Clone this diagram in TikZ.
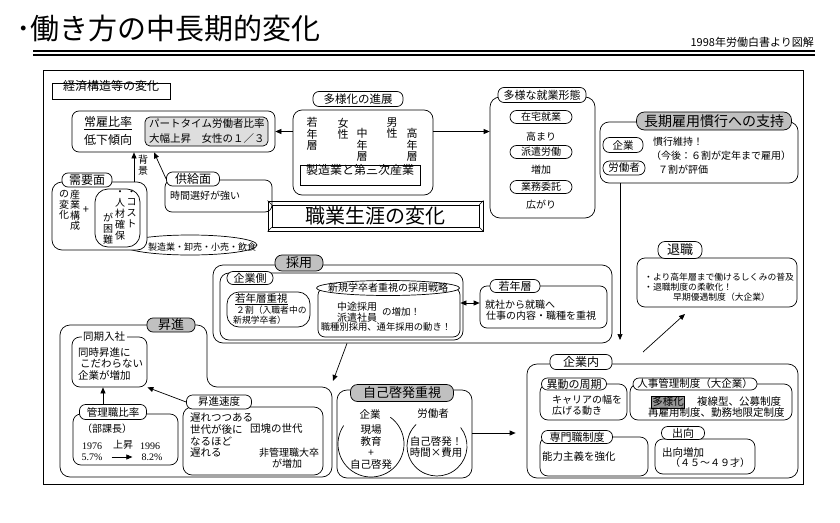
\documentclass[tikz,border=0pt]{standalone}
\usepackage{fontspec}
\setmainfont{Noto Sans CJK JP}
\newfontfamily\numfont{Liberation Serif}
\usetikzlibrary{arrows.meta,fit,shapes.geometric}
\definecolor{tabgray}{RGB}{192,192,192}
\definecolor{lightbox}{RGB}{222,222,222}
\definecolor{hlgray}{RGB}{150,150,150}
\newcommand\fsz[2]{\fontsize{#1}{#2}\selectfont\lineskiplimit=-50pt\lineskip=0pt\relax}
\begin{document}
\begin{tikzpicture}[x=1pt,y=-1pt,
 rbox/.style={draw, rounded corners=7pt, inner sep=0pt, line width=0.7pt},
 tab/.style={draw, fill=white, rounded corners=6pt, inner sep=1pt, line width=0.7pt},
 pill/.style={draw, rounded corners=6.5pt, inner sep=1pt, minimum height=13pt, line width=0.7pt},
 lt/.style={anchor=west, inner sep=0pt},
 ct/.style={inner sep=0pt},
 vt/.style={inner sep=0pt, align=center},
 arr/.style={-{Triangle[length=6pt,width=5pt]}, line width=0.7pt}]
\useasboundingbox[fill=white] (0,0) rectangle (840,522);

% title
\node[lt, font=\fsz{29}{32}] (title) at (16,28) {･働き方の中長期的変化};
\node[anchor=east, inner sep=0pt, font=\fsz{11}{12}] (source) at (814,42) {1998年労働白書より図解};
\draw[line width=1.6pt] (33,51) -- (815,51);
\draw[line width=1.1pt] (33,55) -- (815,55);

% frame
\node[draw, line width=0.9pt, inner sep=0pt, fit={(43,70)(803,484)}] (frame) {};
\node[draw, line width=0.7pt, inner sep=0pt, fit={(52,83)(170,99)}, font=\fsz{12}{14}] (keizai) {経済構造等の変化};

% 常雇比率
\node[rbox, fit={(72,111)(275,152)}] (joyo) {};
\node[ct, font=\fsz{12}{14}] (joyo1) at (108,123) {\underline{常雇比率}};
\node[ct, font=\fsz{12}{14}] (joyo2) at (108,140) {低下傾向};
\node[rbox, rounded corners=5pt, fill=lightbox, fit={(145,117)(268,146)}] (part) {};
\node[lt, font=\fsz{10.5}{12}] (part1) at (149,124) {パートタイム労働者比率};
\node[lt, font=\fsz{10.5}{12}] (part2) at (149,139) {大幅上昇　女性の１／３};

% 多様化の進展
\node[rbox, rounded corners=9pt, fit={(293,110)(433,195)}] (tayoka) {};
\node[tab, minimum width=90, minimum height=15, font=\fsz{11.5}{13}] (tayokatab) at (358,99) {多様化の進展};
\node[vt, font=\fsz{11}{11.5}] (v1) at (312,134) {若\\年\\層};
\node[vt, font=\fsz{11}{11.5}] (v2) at (343,129) {女\\性};
\node[vt, font=\fsz{11}{11.5}] (v3) at (362,145) {中\\年\\層};
\node[vt, font=\fsz{11}{11.5}] (v4) at (392,128) {男\\性};
\node[vt, font=\fsz{11}{11.5}] (v5) at (412,145) {高\\年\\層};
\node[draw, line width=0.7pt, inner sep=0pt, fit={(300,165)(420,185)}, font=\fsz{12}{14}] (seizo) {製造業と第三次産業};

% 多様な就業形態
\node[rbox, rounded corners=10pt, fit={(490,97)(595,218)}] (shugyo) {};
\node[tab, minimum width=88, minimum height=15, font=\fsz{11}{13}] (shugyotab) at (542,95) {多様な就業形態};
\node[pill, minimum width=62, font=\fsz{10}{12}] (zaitaku) at (541,117) {在宅就業};
\node[ct, font=\fsz{10}{12}] (takamari) at (541,137) {高まり};
\node[pill, minimum width=62, font=\fsz{10}{12}] (haken) at (541,152) {派遣労働};
\node[ct, font=\fsz{10}{12}] (zoka) at (541,170) {増加};
\node[pill, minimum width=62, font=\fsz{10}{12}] (itaku) at (541,187) {業務委託};
\node[ct, font=\fsz{10}{12}] (hirogari) at (541,205) {広がり};

\draw[arr] (tayoka.west |- joyo.east) -- (joyo.east);
\draw[arr] (tayoka.east |- joyo.east) -- (shugyo.west |- joyo.east);

% 職業生涯の変化
\node[draw, line width=1pt, inner sep=0pt, fit={(268,201)(483,231)}] (shokugyo) {};
\node[draw, line width=0.6pt, inner sep=0pt, fit={(272,205)(479,227)}] (shokugyoin) {};
\node[ct, font=\fsz{20}{22}] (shokugyotxt) at (shokugyoin) {職業生涯の変化};
\draw[line width=0.6pt] (shokugyo.north west) -- (shokugyoin.north west)
  (shokugyo.north east) -- (shokugyoin.north east)
  (shokugyo.south west) -- (shokugyoin.south west)
  (shokugyo.south east) -- (shokugyoin.south east);

% 需要面 / 供給面
\node[draw, ellipse, line width=0.7pt, minimum width=134, minimum height=20, inner sep=0pt] (ell) at (190,245) {};
\node[ct, font=\fsz{9}{10}] (elltxt) at (202,247) {製造業・卸売・小売・飲食};
\node[rbox, rounded corners=10pt, fill=white, fit={(52,182)(147,250)}] (juyo) {};
\node[tab, minimum width=50, minimum height=14, font=\fsz{12}{14}] (juyotab) at (87,180) {需要面};
\node[vt, font=\fsz{10}{10.5}] (jv1) at (64,205) {の\\変\\化};
\node[vt, font=\fsz{10}{10.5}] (jv2) at (75,210) {産\\業\\構\\成};
\node[ct, font=\fsz{11}{12}] (plus) at (86,210) {+};
\node[draw, line width=0.7pt, rounded corners=13pt, inner sep=0pt, fit={(95,189)(140,247)}] (cyl) {};
\node[vt, font=\fsz{10}{10.6}] (cv1) at (131.5,209) {・\\コ\\ス\\ト};
\node[vt, font=\fsz{10}{11}] (cv2) at (120,215.5) {・\\人\\材\\確\\保};
\node[vt, font=\fsz{10}{11}] (cv3) at (108,229) {が\\困\\難};

\node[rbox, fit={(165,180)(272,212)}] (kyokyu) {};
\node[tab, minimum width=53, minimum height=14, font=\fsz{12}{14}] (kyokyutab) at (193,179) {供給面};
\node[lt, font=\fsz{10}{12}] (kyokyutxt) at (170,196) {時間選好が強い};

\coordinate (bx) at (134,0);
\coordinate (kx2) at (154,0);
\draw[arr] (juyo.north -| bx) -- (joyo.south -| bx);
\node[vt, font=\fsz{10}{10.5}] (haikei) at (143,165) {背\\景};
\draw[arr] (kyokyutab.west) -- (joyo.south -| kx2);

% 長期雇用慣行への支持
\node[rbox, rounded corners=9pt, fit={(600,122)(798,183)}] (choki) {};
\node[tab, fill=tabgray, rounded corners=8pt, minimum width=155, minimum height=18, font=\fsz{14}{16}] (chokitab) at (714,121) {長期雇用慣行への支持};
\node[pill, minimum width=40, minimum height=15, font=\fsz{10.5}{12}] (chokik) at (623,145) {企業};
\node[pill, minimum width=42, minimum height=14, font=\fsz{10.5}{12}] (chokir) at (624,168) {労働者};
\node[lt, font=\fsz{10}{12}] (c1) at (653,142) {慣行維持！};
\node[lt, font=\fsz{10}{12}] (c2) at (651,156) {（今後：６割が定年まで雇用）};
\node[lt, font=\fsz{10}{12}] (c3) at (658,170) {７割が評価};

% 退職
\node[rbox, rounded corners=8pt, fit={(637,258)(797,307)}] (taishoku) {};
\node[tab, rounded corners=7pt, minimum width=44, minimum height=17, font=\fsz{13}{15}] (taishokutab) at (680,250) {退職};
\node[lt, font=\fsz{8.8}{10}] (t1) at (644,277) {・より高年層まで働けるしくみの普及};
\node[lt, font=\fsz{8.8}{10}] (t2) at (644,287) {・退職制度の柔軟化！};
\node[lt, font=\fsz{8.8}{10}] (t3) at (673,297) {早期優遇制度（大企業）};

% 採用
\node[rbox, rounded corners=10pt, fit={(213,265)(612,343)}] (saiyo) {};
\node[tab, fill=tabgray, rounded corners=7pt, minimum width=48, minimum height=16, font=\fsz{13}{15}] (saiyotab) at (299,263) {採用};
\node[rbox, rounded corners=9pt, fit={(220,273)(463,340)}] (kigyogawa) {};
\node[tab, minimum width=46, minimum height=13, font=\fsz{11}{13}] (kigyogawatab) at (250,278) {企業側};
\node[rbox, rounded corners=12pt, fit={(227,292)(310,327)}] (wakate) {};
\node[lt, font=\fsz{10.5}{12}] (w1) at (235,299) {\underline{若年層重視}};
\node[lt, font=\fsz{8.8}{10}] (w2) at (236,310) {２割（入職者中の};
\node[lt, font=\fsz{8.8}{10}] (w3) at (233,320) {新規学卒者）};
\node[rbox, fit={(318,288)(460,337)}] (senryaku) {};
\node[draw, ellipse, fill=white, line width=0.7pt, minimum width=143, minimum height=15, inner sep=0pt] (senryakuhead) at (388,288) {};
\node[ct, font=\fsz{10}{12}] (senryakutxt) at (senryakuhead) {新規学卒者重視の採用戦略};
\node[vt, font=\fsz{10}{10.5}] (s1) at (357,312) {中途採用\\派遣社員};
\node[ct, font=\fsz{9.5}{11}] (s2) at (401,312) {の増加！};
\node[ct, font=\fsz{9.3}{11}] (s3) at (386,327) {職種別採用、通年採用の動き！};
\node[rbox, fit={(480,286)(607,328)}] (jakunen) {};
\node[tab, minimum width=50, minimum height=13, font=\fsz{11}{13}] (jakunentab) at (515,286) {若年層};
\node[lt, font=\fsz{10}{12}] (j1) at (485,305) {就社から就職へ};
\node[lt, font=\fsz{10}{12}] (j2) at (486,316) {仕事の内容・職種を重視};
\coordinate (y303) at (0,303);
\draw[{Triangle[length=6pt,width=5pt]}-{Triangle[length=6pt,width=5pt]}, line width=0.7pt] (senryaku.east |- y303) -- (jakunen.west |- y303);

% 昇進
\draw[line width=0.7pt, rounded corners=10pt] (60,400) -- (60,325) -- (207,325) -- (207,387) -- (332,387) -- (332,477) -- (60,477) -- cycle;
\node[tab, fill=tabgray, minimum width=48, minimum height=14, font=\fsz{13}{15}] (shoshintab) at (171,325) {昇進};
\node[rbox, rounded corners=8pt, fit={(72,337)(147,387)}] (doki) {};
\node[fill=white, inner sep=1.5pt, font=\fsz{10.5}{12}] (dokitab) at (104,337) {同期入社};
\node[lt, font=\fsz{10.5}{12}] (d1) at (78,353) {同時昇進に};
\node[lt, font=\fsz{10.5}{12}] (d2) at (80,364) {こだわらない};
\node[lt, font=\fsz{10.5}{12}] (d3) at (78,375) {企業が増加};
\node[rbox, rounded corners=8pt, fit={(73,414)(178,465)}] (kanri) {};
\node[tab, minimum width=67, minimum height=15, font=\fsz{10.5}{12}] (kanritab) at (113,412) {管理職比率};
\node[ct, font=\fsz{10}{12}] (bukacho) at (107,429) {（部課長）};
\node[ct, font={\numfont\fsz{10}{12}}] (y1976) at (92,446) {1976};
\node[ct, font=\fsz{10}{12}] (josho) at (123,445) {上昇};
\node[ct, font={\numfont\fsz{10}{12}}] (y1996) at (150,446) {1996};
\node[ct, font={\numfont\fsz{10}{12}}] (p57) at (92,457) {5.7\%};
\node[ct, font={\numfont\fsz{10}{12}}] (p82) at (152,457) {8.2\%};
\draw[arr, shorten <=9pt, shorten >=9pt] (p57.east) -- (p82.west);
\node[rbox, rounded corners=9pt, fit={(183,407)(323,475)}] (sokudo) {};
\node[tab, minimum width=65, minimum height=14, font=\fsz{10.5}{12}] (sokudotab) at (219,402) {昇進速度};
\node[lt, font=\fsz{10.5}{12}] (k1) at (190,418) {遅れつつある};
\node[lt, font=\fsz{10.5}{12}] (k2) at (190,429) {世代が後に};
\node[lt, font=\fsz{10.5}{12}] (k3) at (250,429) {団塊の世代};
\node[lt, font=\fsz{10.5}{12}] (k4) at (190,441) {なるほど};
\node[lt, font=\fsz{10.5}{12}] (k5) at (190,453) {遅れる};
\node[lt, font=\fsz{10}{12}] (k6) at (259,453) {非管理職大卒};
\node[lt, font=\fsz{10}{12}] (k7) at (272,464) {が増加};
\coordinate (dx) at (103,0);
\draw[arr] (kanritab.north -| dx) -- (doki.south -| dx);
\draw[arr] (sokudotab.west) -- (doki.south east);

% 自己啓発重視
\node[rbox, rounded corners=10pt, fit={(337,390)(472,478)}] (jiko) {};
\draw[line width=0.7pt] ([shift={(146:33pt)}]371,444) arc[start angle=146, end angle=414, radius=33pt];
\draw[line width=0.7pt] ([shift={(134:30pt)}]437,446) arc[start angle=134, end angle=398, radius=30pt];
\node[tab, fill=tabgray, rounded corners=7pt, minimum width=103, minimum height=17, font=\fsz{13}{15}] (jikotab) at (402,393) {自己啓発重視};
\node[ct, font=\fsz{10.5}{12}] (jk) at (370,414) {企業};
\node[ct, font=\fsz{10.5}{12}] (jr) at (433,414) {労働者};
\node[vt, font=\fsz{10.5}{11.5}] (genba) at (371,447) {現場\\教育\\+\\自己啓発};
\node[vt, font=\fsz{10.5}{11}] (rodo) at (436,447) {自己啓発！\\時間×費用};

% 企業内
\node[rbox, rounded corners=10pt, fit={(527,364)(798,478)}] (kigyonai) {};
\node[tab, minimum width=62, minimum height=15, font=\fsz{12}{14}] (kigyonaitab) at (581,362) {企業内};
\node[rbox, rounded corners=8pt, fit={(540,384)(627,420)}] (ido) {};
\node[tab, minimum width=65, minimum height=12, font=\fsz{11}{13}] (idotab) at (574,384) {異動の周期};
\node[lt, font=\fsz{10}{12}] (i1) at (552,400) {キャリアの幅を};
\node[lt, font=\fsz{10}{12}] (i2) at (552,411) {広げる動き};
\node[rbox, rounded corners=8pt, fit={(630,384)(792,420)}] (jinji) {};
\node[tab, minimum width=124, minimum height=12, font=\fsz{10.5}{12}] (jinjitab) at (695,384) {人事管理制度（大企業）};
\node[draw, fill=hlgray, inner sep=1pt, line width=0.7pt, font=\fsz{10.5}{12}] (hl) at (668,402) {多様化};
\node[lt, font=\fsz{10.5}{12}] (h1) at (697,402) {複線型、公募制度};
\node[lt, font=\fsz{10.5}{12}] (h2) at (648,413) {再雇用制度、勤務地限定制度};
\node[rbox, rounded corners=8pt, fit={(540,437)(648,476)}] (senmon) {};
\node[tab, minimum width=71, minimum height=13, font=\fsz{11}{13}] (senmontab) at (577,437) {専門職制度};
\node[lt, font=\fsz{10.5}{12}] (sm1) at (542,457) {能力主義を強化};
\node[rbox, rounded corners=8pt, fit={(655,439)(755,474)}] (shukko) {};
\node[tab, minimum width=43, minimum height=13, font=\fsz{11}{13}] (shukkotab) at (683,433) {出向};
\node[lt, font=\fsz{10.5}{12}] (sk1) at (662,452) {出向増加};
\node[lt, font=\fsz{10}{12}] (sk2) at (670,463) {（４５～４９才）};

% connectors
\coordinate (y433) at (0,433);
\draw[arr, shorten >=11pt] (jiko.east |- y433) -- (kigyonai.west |- y433);
\coordinate (kx) at (620,340);
\draw[arr] (choki.south -| kx) -- (kx);
\coordinate (tsA) at (643,352);
\coordinate (tsB) at (685,314);
\draw[arr] (tsA) -- (tsB);
\coordinate (sx) at (347,0);
\coordinate (jikoin) at (333,381);
\draw[arr] (saiyo.south -| sx) -- (jikoin);
\end{tikzpicture}
\end{document}
